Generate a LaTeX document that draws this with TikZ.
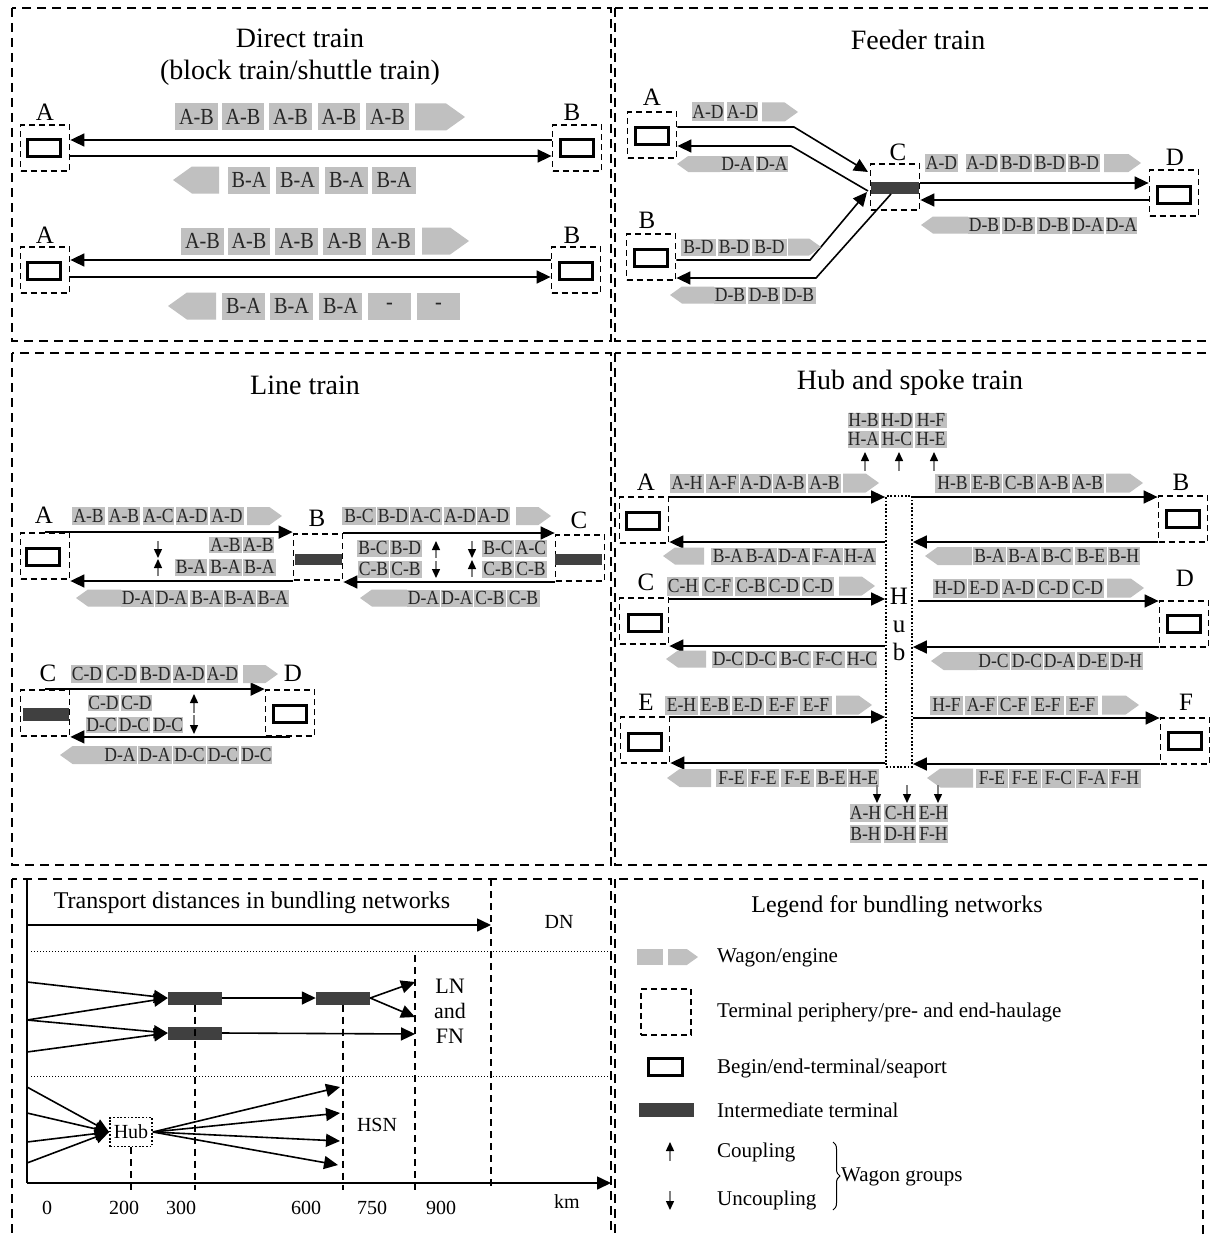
\documentclass[tikz,border=0pt]{standalone}
\usepackage{fontspec}
\setmainfont{Liberation Serif}
\newfontfamily\wagf[FakeStretch=0.88]{Liberation Serif}
\usetikzlibrary{arrows.meta,decorations.pathreplacing}
\definecolor{wg}{RGB}{192,192,192}
\definecolor{dk}{RGB}{64,64,64}
\newcommand{\fsz}[1]{\fontsize{#1}{#1}\selectfont}
\newcommand{\wrow}[4][20]{%
  \foreach \xa/\xb/\lab in {#4}{%
    \node[wag, font=\wagf\fsz{#1}, minimum height=#3pt, minimum width={(\xb-\xa)*1pt}] (w-\xa-#2) at ({(\xa+\xb)/2},#2) {\lab};}}
\newcommand{\engR}[4]{\fill[wg] (#1,{#3-#4/2}) -- ({#2-0.7*#4},{#3-#4/2}) -- (#2,#3) -- ({#2-0.7*#4},{#3+#4/2}) -- (#1,{#3+#4/2}) -- cycle;}
\newcommand{\engL}[4]{\fill[wg] (#2,{#3-#4/2}) -- ({#1+0.7*#4},{#3-#4/2}) -- (#1,#3) -- ({#1+0.7*#4},{#3+#4/2}) -- (#2,{#3+#4/2}) -- cycle;}
\newcommand{\smarr}[3]{\draw[cpl] (#1,#2) -- (#1,#3);}
\begin{document}
\begin{tikzpicture}[x=1pt,y=-1pt,
  panel/.style={draw, line width=2pt, dash pattern=on 9pt off 6pt},
  tbox/.style={draw, line width=1.8pt, dash pattern=on 6pt off 4pt, minimum width=49pt, minimum height=46pt, inner sep=0pt},
  term/.style={draw, line width=3pt, minimum width=33pt, minimum height=17pt, inner sep=0pt},
  iterm/.style={fill=dk, minimum width=48pt, minimum height=12pt, inner sep=0pt},
  wag/.style={fill=wg, inner sep=0pt, text=black!85},
  lbl/.style={font=\fsz{25}, inner sep=0pt},
  ttl/.style={font=\fontsize{28}{32}\selectfont, align=center, inner sep=0pt},
  arr/.style={line width=1.6pt, -{Triangle[length=14pt,width=13pt]}},
  cpl/.style={line width=1.4pt, draw=gray, -{Triangle[length=9pt,width=8pt,color=black]}},
  dvl/.style={line width=1.5pt, dash pattern=on 7pt off 5pt},
  dotl/.style={line width=1pt, dash pattern=on 1pt off 2pt},
  leg/.style={font=\fsz{21}, anchor=west, inner sep=0pt},
  num/.style={font=\fsz{20}, inner sep=0pt}]
\useasboundingbox (0,0) rectangle (1210,1236);
\clip (0,0) rectangle (1210,1236);
\fill[white] (0,0) rectangle (1210,1236);
% panels
\draw[panel] (12,8) rectangle (611,341);
\draw[panel] (615,8) rectangle (1216,341);
\draw[panel] (12,353) rectangle (611,865);
\draw[panel] (615,353) rectangle (1216,865);
\draw[panel] (12,879) rectangle (611,1250);
\draw[panel] (615,879) rectangle (1203,1250);

% ================= Direct train
\node[ttl] (t1) at (300,57) {Direct train\\(block train/shuttle train)};
\node[tbox] (A1) at (45,148) {};
\node[term] (A1t) at (44,148) {};
\node[lbl] (A1l) at (45,112) {A};
\node[tbox] (B1) at (577,148) {};
\node[term] (B1t) at (577,148) {};
\node[lbl] (B1l) at (572,112) {B};
\draw[arr] (B1.west |- 0,140) -- (A1.east |- 0,140);
\draw[arr] (A1.east |- 0,156) -- (B1.west |- 0,156);
\wrow[23]{117}{27}{175/218/A-B,222/264/A-B,269/312/A-B,318/360/A-B,366/409/A-B}
\engR{415}{465}{117}{27}
\engL{173}{219}{180}{27}
\wrow[23]{180}{27}{228/270/B-A,276/319/B-A,325/368/B-A,372/416/B-A}

\node[tbox] (A2) at (45,270) {};
\node[term] (A2t) at (44,271) {};
\node[lbl] (A2l) at (45,235) {A};
\node[tbox] (B2) at (576,270) {};
\node[term] (B2t) at (576,271) {};
\node[lbl] (B2l) at (572,235) {B};
\draw[arr] (B2.west |- 0,260) -- (A2.east |- 0,260);
\draw[arr] (A2.east |- 0,277) -- (B2.west |- 0,277);
\wrow[23]{241}{27}{181/224/A-B,228/270/A-B,275/318/A-B,323/366/A-B,372/415/A-B}
\engR{422}{469}{241}{27}
\engL{168}{216}{306}{27}
\wrow[23]{306}{27}{222/265/B-A,270/313/B-A,319/362/B-A,368/411/-,417/460/-}

% ================= Feeder train
\node[ttl] (t2) at (918,40) {Feeder train};
\node[tbox] (FA) at (652,135) {};
\node[term] (FAt) at (652,136) {};
\node[lbl] (FAl) at (652,97) {A};
\node[tbox] (FB) at (651,257) {};
\node[term] (FBt) at (651,258) {};
\node[lbl] (FBl) at (647,220) {B};
\node[tbox] (FC) at (895,187) {};
\node[iterm] (FCt) at (895,188) {};
\node[lbl] (FCl) at (898,152) {C};
\node[tbox] (FD) at (1174,193) {};
\node[term] (FDt) at (1174,195) {};
\node[lbl] (FDl) at (1175,157) {D};
\draw[arr] (FA.east |- 0,127) -- (794,127) -- (868,172);
\draw[arr] (868,191) -- (791,146) -- (FA.east |- 0,146);
\draw[arr] (FB.east |- 0,260) -- (810,260) -- (867,192);
\draw[arr] (891,194) -- (816,278) -- (FB.east |- 0,278);
\draw[arr] (FC.east |- 0,183) -- (FD.west |- 0,183);
\draw[arr] (FD.west |- 0,200) -- (FC.east |- 0,200);
\wrow{112}{19}{693/723/A-D,727/758/A-D}
\engR{762}{798}{112}{19}
\engL{677}{720}{164}{16}
\wrow{164}{16}{720/754/D-A,756/788/D-A}
\wrow{247}{17}{681/716/B-D,718/750/B-D,752/787/B-D}
\engR{788}{821}{247}{17}
\engL{670}{714}{295}{17}
\wrow{295}{17}{714/746/D-B,748/780/D-B,782/816/D-B}
\wrow{163}{18}{925/958/A-D,966/998/A-D,1000/1032/B-D,1034/1066/B-D,1068/1100/B-D}
\engR{1104}{1141}{163}{18}
\engL{921}{968}{225}{17}
\wrow{225}{17}{968/1000/D-B,1002/1035/D-B,1037/1070/D-B,1072/1104/D-A,1106/1137/D-A}

% ================= Line train
\node[ttl] (t3) at (305,385) {Line train};
\node[tbox] (LA) at (45,556) {};
\node[term] (LAt) at (43,557) {};
\node[lbl] (LAl) at (44,515) {A};
\node[tbox] (LB) at (318,557) {};
\node[iterm, minimum width=47pt, minimum height=11pt] (LBt) at (318,559) {};
\node[lbl] (LBl) at (317,518) {B};
\node[tbox] (LC) at (580,558) {};
\node[iterm, minimum width=47pt, minimum height=11pt] (LCt) at (578,559) {};
\node[lbl] (LCl) at (579,520) {C};
\draw[arr] (LA.north) -- (LB.west |- LA.north);
\draw[arr] (LB.west |- 0,581) -- (LA.east |- 0,581);
\draw[arr] (LB.east |- 0,533) -- (LC.west |- 0,533);
\draw[arr] (LC.west |- 0,582) -- (LB.east |- 0,582);
\smarr{158}{541}{558}
\smarr{158}{576}{559}
\smarr{436}{558}{541}
\smarr{436}{561}{578}
\smarr{472}{541}{558}
\smarr{472}{577}{560}
\wrow{516}{18}{72/105/A-B,108/140/A-B,143/174/A-C,176/208/A-D,210/244/A-D}
\engR{247}{282}{516}{18}
\wrow{545}{16}{209/242/A-B,243/274/A-B}
\wrow{567}{17}{175/207/B-A,209/242/B-A,243/276/B-A}
\engL{76}{121}{598}{17}
\wrow{598}{17}{121/154/D-A,155/188/D-A,190/223/B-A,224/256/B-A,257/289/B-A}
\wrow{516}{18}{342/376/B-C,377/409/B-D,410/442/A-C,444/476/A-D,477/510/A-D}
\engR{516}{551}{516}{18}
\wrow{548}{17}{357/389/B-C,390/422/B-D,482/514/B-C,515/547/A-C}
\wrow{569}{17}{358/389/C-B,390/422/C-B,482/514/C-B,515/547/C-B}
\engL{360}{407}{598}{17}
\wrow{598}{17}{407/440/D-A,441/473/D-A,474/506/C-B,507/540/C-B}

\node[tbox] (LC2) at (45,713) {};
\node[iterm, minimum width=46pt, minimum height=13pt] (LC2t) at (46,714) {};
\node[lbl] (LC2l) at (48,673) {C};
\node[tbox] (LD) at (290,713) {};
\node[term] (LDt) at (290,714) {};
\node[lbl] (LDl) at (293,673) {D};
\draw[arr] (LC2.north) -- (LD.west |- LC2.north);
\draw[arr] (LD.south) -- (LC2.east |- LD.south);
\smarr{194}{713}{694}
\smarr{194}{715}{734}
\wrow{674}{18}{71/103/C-D,106/137/C-D,140/171/B-D,173/205/A-D,207/238/A-D}
\engR{243}{278}{674}{18}
\wrow{703}{16}{88/119/C-D,121/152/C-D}
\wrow{725}{16}{86/117/D-C,118/150/D-C,153/183/D-C}
\engL{60}{107}{755}{18}
\wrow{755}{18}{103/137/D-A,138/172/D-A,173/206/D-C,207/239/D-C,241/272/D-C}

% ================= Hub and spoke
\node[ttl] (t4) at (910,383) {Hub and spoke train};
\node[draw, line width=1.8pt, dash pattern=on 1.8pt off 1.8pt, minimum width=26pt, minimum height=271pt, inner sep=0pt] (H) at (899,631.5) {};
\node[font=\fontsize{25}{28}\selectfont, align=center, inner sep=0pt] (Htxt) at (899,624) {H\\u\\b};
\wrow{420}{15}{848/879/H-B,881/913/H-D,915/947/H-F}
\wrow{439}{17}{848/879/H-A,881/913/H-C,915/947/H-E}
\smarr{865}{471}{452}
\smarr{899}{471}{452}
\smarr{934}{471}{452}
\node[tbox] (HA) at (644,520) {};
\node[term] (HAt) at (643,521) {};
\node[lbl] (HAl) at (646,482) {A};
\node[tbox] (HB) at (1183,519) {};
\node[term] (HBt) at (1183,519) {};
\node[lbl] (HBl) at (1181,482) {B};
\node[tbox] (HC) at (644,621) {};
\node[term] (HCt) at (645,623) {};
\node[lbl] (HCl) at (646,582) {C};
\node[tbox] (HD) at (1184,624) {};
\node[term] (HDt) at (1184,624) {};
\node[lbl] (HDl) at (1185,578) {D};
\node[tbox] (HE) at (645,740) {};
\node[term] (HEt) at (645,742) {};
\node[lbl] (HEl) at (646,702) {E};
\node[tbox] (HF) at (1185,741) {};
\node[term] (HFt) at (1185,741) {};
\node[lbl] (HFl) at (1186,702) {F};
\coordinate (hd) at (918,601);
\draw[arr] (HA.east |- 0,497) -- (H.west |- 0,497);
\draw[arr] (H.west |- 0,542) -- (HA.east |- 0,542);
\draw[arr] (H.east |- 0,497) -- (HB.west |- 0,497);
\draw[arr] (HB.west |- 0,542) -- (H.east |- 0,542);
\draw[arr] (HC.east |- 0,599) -- (H.west |- 0,599);
\draw[arr] (H.west |- 0,646) -- (HC.east |- 0,646);
\draw[arr] (hd) -- (HD.west |- hd);
\draw[arr] (HD.west |- 0,647) -- (H.east |- 0,647);
\draw[arr] (HE.east |- 0,717) -- (H.west |- 0,717);
\draw[arr] (H.west |- 0,763) -- (HE.east |- 0,763);
\draw[arr] (H.east |- 0,718) -- (HF.west |- 0,718);
\draw[arr] (HF.west |- 0,764) -- (H.east |- 0,764);
\wrow{483}{19}{670/704/A-H,706/739/A-F,740/772/A-D,773/806/A-B,808/841/A-B}
\engR{843}{879}{483}{19}
\engL{663}{704}{556}{17}
\wrow{556}{17}{711/745/B-A,745/777/B-A,778/810/D-A,812/843/F-A,845/875/H-A}
\wrow{483}{19}{935/970/H-B,971/1002/E-B,1003/1036/C-B,1037/1070/A-B,1072/1104/A-B}
\engR{1106}{1143}{483}{19}
\engL{925}{972}{556}{18}
\wrow{556}{18}{973/1006/B-A,1007/1040/B-A,1041/1073/B-C,1075/1107/B-E,1108/1140/B-H}
\wrow{586}{19}{667/699/C-H,702/733/C-F,735/767/C-B,768/800/C-D,802/834/C-D}
\engR{839}{875}{586}{19}
\engL{666}{706}{659}{17}
\wrow{659}{17}{712/744/D-C,745/777/D-C,779/811/B-C,813/845/F-C,847/877/H-C}
\wrow{588}{19}{933/967/H-D,968/1000/E-D,1002/1035/A-D,1037/1070/C-D,1072/1104/C-D}
\engR{1107}{1144}{588}{19}
\engL{931}{977}{661}{18}
\wrow{661}{18}{977/1010/D-C,1011/1043/D-C,1044/1075/D-A,1077/1109/D-E,1110/1143/D-H}
\wrow{705}{19}{665/698/E-H,700/730/E-B,732/764/E-D,766/798/E-F,800/832/E-F}
\engR{836}{872}{705}{19}
\engL{667}{711}{778}{18}
\wrow{778}{18}{716/747/F-E,748/779/F-E,781/814/F-E,816/847/B-E,848/879/H-E}
\wrow{705}{19}{930/963/H-F,965/997/A-F,998/1029/C-F,1031/1064/E-F,1066/1098/E-F}
\engR{1102}{1139}{705}{19}
\engL{927}{973}{778}{19}
\wrow{778}{19}{976/1008/F-E,1009/1041/F-E,1042/1075/F-C,1076/1108/F-A,1109/1141/F-H}
\smarr{877}{785}{803}
\smarr{907}{785}{803}
\smarr{938}{785}{803}
\wrow{813}{18}{850/881/A-H,884/916/C-H,919/948/E-H}
\wrow{834}{18}{850/881/B-H,884/916/D-H,919/948/F-H}

% ================= Transport distances
\node[font=\fsz{24}, inner sep=0pt] (t5) at (252,903) {Transport distances in bundling networks};
\coordinate (o) at (27,1183);
\coordinate (ytop) at (27,879);
\coordinate (xend) at (611,1183);
\draw[line width=1.5pt] (ytop) -- (o);
\draw[arr] (o) -- (xend);
\draw[dvl] (491,879) -- (491,1190);
\draw[dvl] (415,955) -- (415,1190);
\coordinate (dn0) at (27,925);
\coordinate (dn1) at (491,925);
\draw[arr] (dn0) -- (dn1);
\node[num] (dn) at (559,922) {DN};
\draw[dotl] (31,951) -- (611,951);
\draw[dotl] (31,1076) -- (611,1076);
\node[iterm, minimum width=54pt, minimum height=13pt] (T1) at (195,998) {};
\node[iterm, minimum width=54pt, minimum height=13pt] (T2) at (195,1033) {};
\node[iterm, minimum width=54pt, minimum height=13pt] (T3) at (343,998) {};
\draw[dvl] (T1.south) -- (T1.south |- 0,1190);
\draw[dvl] (T3.south) -- (T3.south |- 0,1190);
\coordinate (l1) at (27,982);
\coordinate (l2) at (27,1020);
\coordinate (l3) at (27,1052);
\draw[arr] (l1) -- (T1.west);
\draw[arr] (l2) -- (T1.west);
\draw[arr] (l2) -- (T2.west);
\draw[arr] (l3) -- (T2.west);
\draw[arr] (T1.east) -- (T3.west);
\coordinate (r1) at (415,982);
\coordinate (r2) at (415,1017);
\coordinate (r3) at (415,1034);
\draw[arr] (T3.east) -- (r1);
\draw[arr] (T3.east) -- (r2);
\draw[arr] (T2.east) -- (r3);
\node[font=\fontsize{22}{25}\selectfont, align=center, inner sep=0pt] (lnfn) at (450,1011) {LN\\and\\FN};
\node[draw, line width=1.8pt, dash pattern=on 1.8pt off 1.8pt, minimum width=42pt, minimum height=29pt, inner sep=0pt, font=\fsz{20}] (hub) at (131,1132) {Hub};
\draw[dvl] (hub.south) -- (hub.south |- 0,1190);
\coordinate (h1) at (27,1087);
\coordinate (h2) at (27,1113);
\coordinate (h3) at (27,1142);
\coordinate (h4) at (27,1163);
\foreach \c in {h1,h2,h3,h4} \draw[arr] (\c) -- (hub.west);
\coordinate (s1) at (340,1087);
\coordinate (s2) at (340,1113);
\coordinate (s3) at (340,1141);
\coordinate (s4) at (338,1165);
\foreach \c in {s1,s2,s3,s4} \draw[arr] (hub.east) -- (\c);
\node[num] (hsn) at (377,1125) {HSN};
\node[num] (n0) at (47,1208) {0};
\node[num] (n200) at (124,1208) {200};
\node[num] (n300) at (181,1208) {300};
\node[num] (n600) at (306,1208) {600};
\node[num] (n750) at (372,1208) {750};
\node[num] (n900) at (441,1208) {900};
\node[num] (km) at (567,1202) {km};

% ================= Legend
\node[font=\fsz{24}, inner sep=0pt] (t6) at (897,907) {Legend for bundling networks};
\fill[wg] (637,949) rectangle (663,965);
\engR{668}{698}{957}{16}
\node[leg] (g1) at (717,958) {Wagon/engine};
\node[tbox, minimum width=50pt, minimum height=46pt] (gt) at (666,1012) {};
\node[leg] (g2) at (717,1012) {Terminal periphery/pre- and end-haulage};
\node[term, minimum width=34pt] (gr) at (665,1067) {};
\node[leg] (g3) at (717,1068) {Begin/end-terminal/seaport};
\node[iterm, minimum width=55pt, minimum height=14pt] (gi) at (666,1110) {};
\node[leg] (g4) at (717,1110) {Intermediate terminal};
\smarr{670}{1161}{1142}
\node[leg] (g5) at (717,1152) {Coupling};
\smarr{670}{1191}{1210}
\node[leg] (g6) at (717,1200) {Uncoupling};
\draw[line width=1pt, decorate, decoration={brace, amplitude=7pt}] (833,1142) -- (833,1210);
\node[leg] (g7) at (841,1177) {Wagon groups};
\end{tikzpicture}
\end{document}
